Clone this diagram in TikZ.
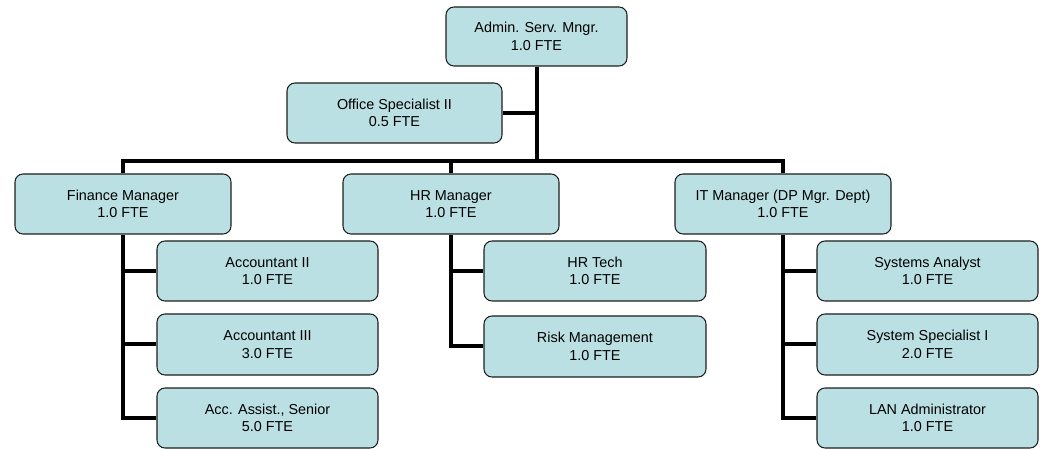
\documentclass[tikz,border=0pt]{standalone}
\usepackage{fontspec}
\setmainfont{Liberation Sans}
\usetikzlibrary{backgrounds}
\definecolor{boxfill}{HTML}{BBE0E3}
\definecolor{boxline}{HTML}{1E1E1E}
\begin{document}
\begin{tikzpicture}[x=0.75pt,y=-0.75pt,
  card/.style 2 args={draw=boxline, line width=0.8pt, fill=boxfill,
    rounded corners=6pt, minimum width=#1*0.75pt, minimum height=#2*0.75pt,
    inner sep=0pt, align=center, font=\fontsize{10.8}{13}\selectfont},
  link/.style={line width=3pt, black, line join=miter}]
\useasboundingbox (0,0) rectangle (1040,449);

% top of the chart
\node[card={181}{59}] (admin) at (536.5,36.5) {Admin. Serv. Mngr.\\1.0 FTE};
\node[card={215}{60}] (office) at (394.5,113) {Office Specialist II\\0.5 FTE};

% department heads
\node[card={216}{60}] (fin) at (123,204) {Finance Manager\\1.0 FTE};
\node[card={216}{60}] (hr) at (451,204) {HR Manager\\1.0 FTE};
\node[card={216}{60}] (it) at (783,204) {IT Manager (DP Mgr. Dept)\\1.0 FTE};

% finance staff
\node[card={221}{60}] (acc2) at (267.5,271) {Accountant II\\1.0 FTE};
\node[card={221}{61}] (acc3) at (267.5,344.5) {Accountant III\\3.0 FTE};
\node[card={221}{60}] (accA) at (267.5,418) {Acc. Assist., Senior\\5.0 FTE};

% HR staff
\node[card={222}{60}] (hrt) at (595,271) {HR Tech\\1.0 FTE};
\node[card={222}{61}] (risk) at (595,346.5) {Risk Management\\1.0 FTE};

% IT staff
\node[card={221}{60}] (sa) at (927.5,271) {Systems Analyst\\1.0 FTE};
\node[card={221}{61}] (ss) at (927.5,344.5) {System Specialist I\\2.0 FTE};
\node[card={221}{60}] (lan) at (927.5,418) {LAN Administrator\\1.0 FTE};

\coordinate (bar) at (536.5,161);

\begin{scope}[on background layer]
  % main trunk and crossbar
  \draw[link] (admin.south) -- (bar);
  \draw[link] (office.east) -- (office.east -| admin.south);
  \draw[link] (fin.north) |- (bar) -| (it.north);
  \draw[link] (hr.north) -- (hr.north |- bar);
  % finance branch
  \draw[link] (fin.south) |- (accA.west);
  \draw[link] (acc2.west) -- (acc2.west -| fin.south);
  \draw[link] (acc3.west) -- (acc3.west -| fin.south);
  % HR branch
  \draw[link] (hr.south) |- (risk.west);
  \draw[link] (hrt.west) -- (hrt.west -| hr.south);
  % IT branch
  \draw[link] (it.south) |- (lan.west);
  \draw[link] (sa.west) -- (sa.west -| it.south);
  \draw[link] (ss.west) -- (ss.west -| it.south);
\end{scope}
\end{tikzpicture}
\end{document}
